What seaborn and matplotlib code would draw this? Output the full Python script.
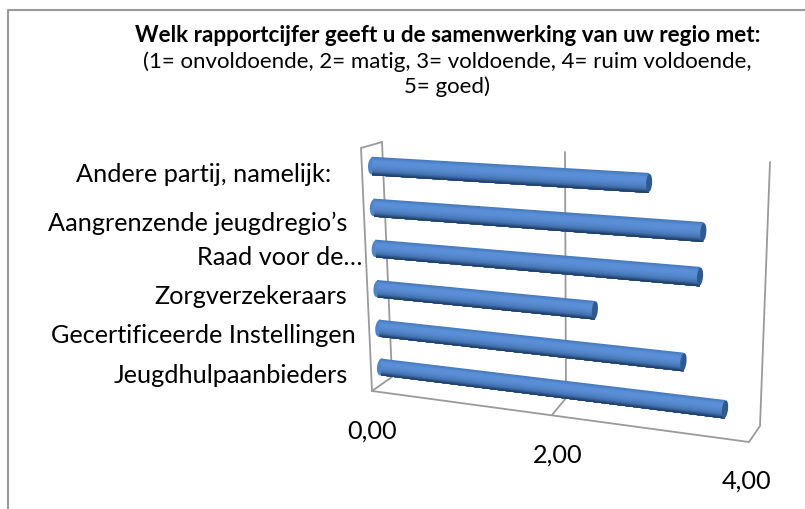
# Excel-achtige 3D cilinder grafiek nagemaakt met seaborn + perspectief transform

import numpy as np
import pandas as pd
import matplotlib
matplotlib.use('Agg')
import matplotlib.pyplot as plt
import seaborn as sns
from matplotlib.patches import Ellipse
from matplotlib.transforms import Transform

categorien = ['Andere partij, namelijk:', 'Aangrenzende jeugdregio’s', 'Raad voor de…',
              'Zorgverzekeraars', 'Gecertificeerde Instellingen', 'Jeugdhulpaanbieders']
waarden = [2.92, 3.45, 3.43, 2.39, 3.29, 3.71]
as_labels = ['0,00', '2,00', '4,00']
titel = 'Welk rapportcijfer geeft u de samenwerking van uw regio met:'
subtitel = ['(1= onvoldoende, 2= matig, 3= voldoende, 4= ruim voldoende,', '5= goed)']

sns.set_theme(style='white')
plt.rcParams['font.family'] = ['Lato', 'DejaVu Sans']


class Perspectief(Transform):
    # (waarde, positie) -> pixel via homografie
    input_dims = 2
    output_dims = 2
    is_affine = False

    def __init__(self, src, dst):
        super().__init__()
        a = []
        b = []
        for (u, v), (x, y) in zip(src, dst):
            a.append([u, v, 1, 0, 0, 0, -u * x, -v * x])
            a.append([0, 0, 0, u, v, 1, -u * y, -v * y])
            b += [x, y]
        self.h = np.append(np.linalg.solve(np.array(a, float), np.array(b, float)), 1).reshape(3, 3)

    def transform_non_affine(self, values):
        values = np.asarray(values, float)
        p = np.c_[values, np.ones(len(values))] @ self.h.T
        return p[:, :2] / p[:, 2:]


fig = plt.figure(figsize=(8.05, 5.10), dpi=100)
ax = fig.add_axes([0, 0, 1, 1])

proj = Perspectief([(0, 0), (0, 5), (4, 0), (4, 5)],
                   [(381, 368), (372, 167), (755, 414), (764, 191)])

df = pd.DataFrame({'positie': np.arange(len(waarden))[::-1], 'waarde': waarden})

# cilinder: stroken van boven naar onder, elke strook loopt door tot de onderkant
n = 20
dikte = 0.44
kleuren = sns.blend_palette(['#477abd', '#5a90d8', '#5a8ed6', '#5285c8', '#4473b2', '#1f3d66'], n)
for i, kleur in enumerate(kleuren):
    h = dikte * (n - i) / n
    off = -dikte / 2 + h / 2
    sns.barplot(x=df['waarde'], y=df['positie'] + off, orient='y', native_scale=True,
                width=h, color=kleur, saturation=1, linewidth=0,
                errorbar=None, ax=ax)
for p in ax.patches:
    p.set_transform(proj + ax.transData)

# einden van de cilinders
for pos, w in zip(df['positie'], df['waarde']):
    x0, y0 = proj.transform(np.array([[0.0, pos]]))[0]
    x1, y1 = proj.transform(np.array([[w, pos]]))[0]
    hoek = np.degrees(np.arctan2(y1 - y0, x1 - x0))
    ax.add_patch(Ellipse((x0, y0), 8, 17, angle=hoek, color='#5285c8', lw=0, zorder=0.9))
    ax.add_patch(Ellipse((x1, y1), 6, 18, angle=hoek, color='#2f5a90', lw=0, zorder=3))

# wanden en gridlijn
grijs = '#9a9a9a'
lijnen = [
    [(382, 143), (361, 149), (372, 392), (749, 443), (760, 427), (770, 163)],
    [(382, 143), (392, 378), (372, 392)],
    [(565, 153), (566, 399), (552, 416)],
]
for l in lijnen:
    xs, ys = zip(*l)
    ax.plot(xs, ys, color=grijs, lw=1.3, zorder=0, solid_joinstyle='miter')

# kader
ax.plot([805, 8, 8], [10.5, 10.5, 510], color='#9a9a9a', lw=1.5, zorder=0)

# tekst
ax.text(448, 35, titel, ha='center', va='center', fontsize=16.2, fontweight='bold', color='black')
ax.text(447, 62, subtitel[0], ha='center', va='center', fontsize=16, color='black')
ax.text(447, 87, subtitel[1], ha='center', va='center', fontsize=16, color='black')

label_x = [204, 197.5, 280, 250.5, 203, 231]
label_y = [175, 223, 258, 297, 336, 376]
for t, x, y in zip(categorien, label_x, label_y):
    ax.text(x, y, t, ha='center', va='center', fontsize=18.2, color='black')

for t, x, y in zip(as_labels, [372, 558, 746], [431, 455, 481]):
    ax.text(x, y, t, ha='center', va='center', fontsize=18.2, color='black')

ax.set_xlim(0, 805)
ax.set_ylim(510, 0)
ax.axis('off')

plt.savefig('out.png', dpi=100)
